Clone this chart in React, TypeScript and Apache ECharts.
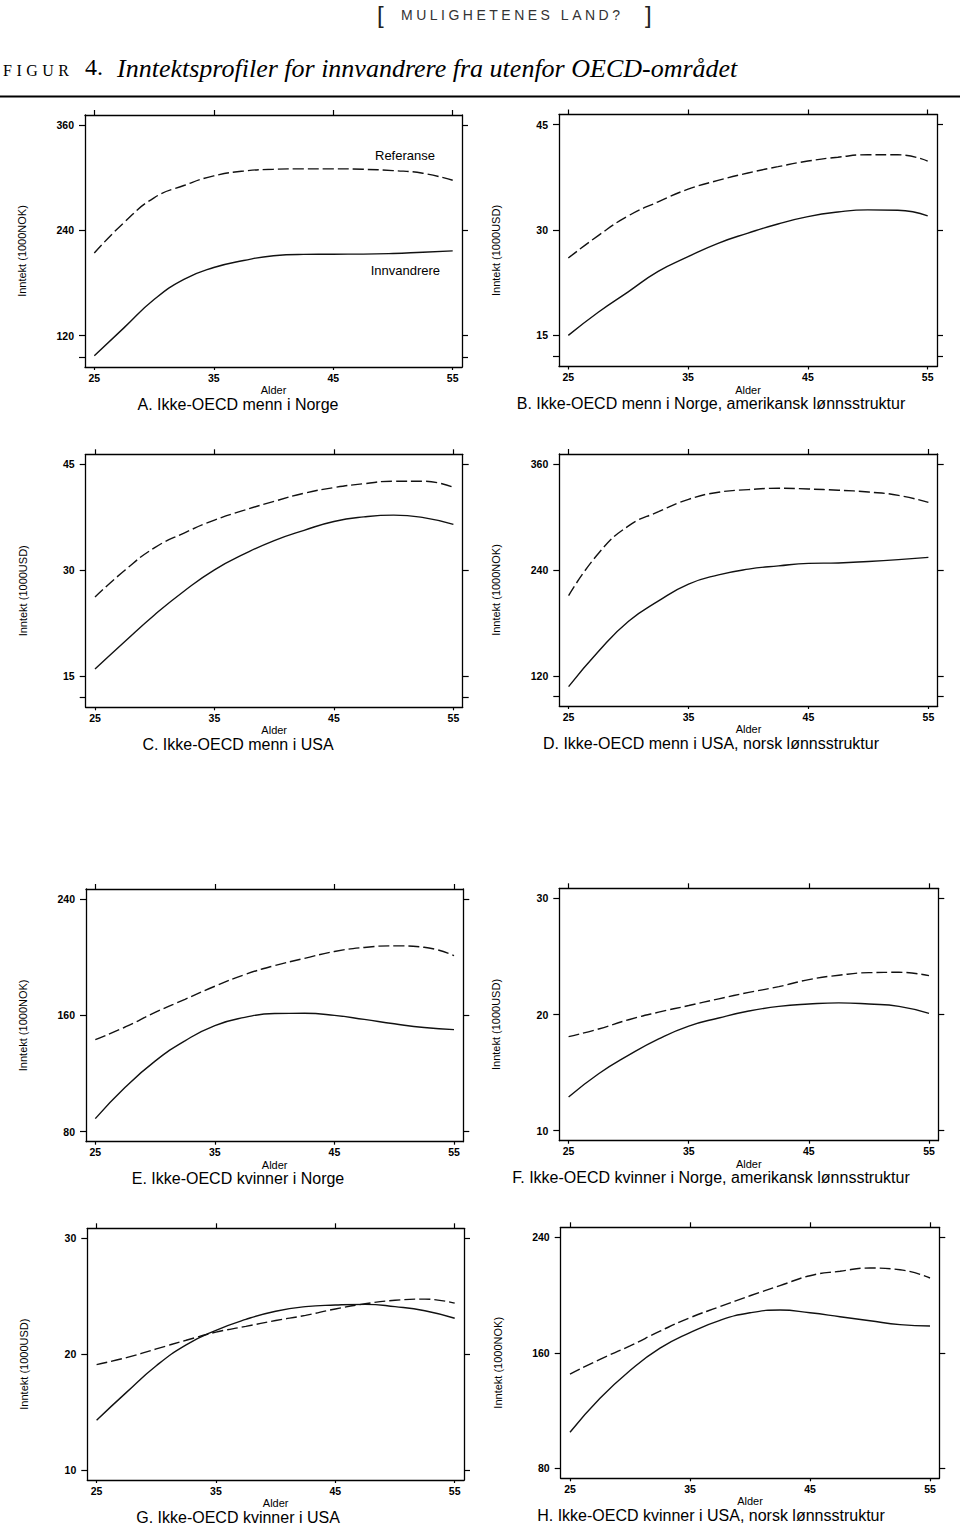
import React, { useEffect, useRef } from "react";
import * as echarts from "echarts";

// ---------- data ----------
const ages = [25, 27.5, 30, 32.5, 35, 37.5, 40, 42.5, 45, 47.5, 50, 52.5, 55];
const xTicks = [25, 35, 45, 55];

const refA = [214, 249, 277, 291, 302, 307.5, 309.5, 310, 310, 309.5, 308, 305, 297];
const innA = [97, 129, 161, 184, 197.5, 205.5, 211, 212.5, 212.7, 212.8, 213.5, 215, 216.5];
const refB = [26.0, 29.2, 32.0, 34.0, 35.8, 37.05, 38.1, 39.0, 39.8, 40.35, 40.7, 40.7, 39.8];
const innB = [15.0, 18.3, 21.2, 24.1, 26.2, 28.1, 29.55, 30.85, 31.9, 32.55, 32.85, 32.8, 32.0];
const refC = [26.2, 30.0, 33.2, 35.3, 37.1, 38.5, 39.75, 40.9, 41.7, 42.25, 42.6, 42.6, 41.75];
const innC = [16.0, 19.9, 23.7, 27.1, 30.05, 32.3, 34.2, 35.65, 36.9, 37.55, 37.8, 37.45, 36.5];
const refD = [211, 259, 290, 306, 320, 328, 331, 332.5, 331.7, 330.3, 328.3, 324.5, 316.6];
const innD = [108, 148, 182, 205, 224, 234.5, 241, 244.7, 247.5, 248, 249.7, 251.8, 254.3];
const refE = [143.3, 152, 162, 171, 180, 188, 194.2, 199.2, 203.9, 206.7, 207.8, 206.8, 201.1];
const innE = [89, 110.5, 128.5, 142.5, 153, 158.6, 161.3, 161.4, 160, 157.2, 154.2, 151.6, 150.2];
const refF = [18.1, 18.75, 19.55, 20.2, 20.77, 21.35, 21.9, 22.4, 23.0, 23.38, 23.6, 23.63, 23.34];
const innF = [12.9, 14.9, 16.5, 17.9, 19.0, 19.7, 20.3, 20.7, 20.9, 21.0, 20.9, 20.7, 20.1];
const refG = [19.1, 19.7, 20.45, 21.2, 21.9, 22.4, 22.9, 23.35, 23.9, 24.35, 24.65, 24.75, 24.4];
const innG = [14.3, 16.7, 19.0, 20.8, 22.06, 23.0, 23.7, 24.1, 24.24, 24.3, 24.1, 23.75, 23.1];
const refH = [145.3, 155.5, 164.8, 175, 184.3, 192, 199.5, 206.5, 213.4, 216.5, 218.7, 217.5, 211.8];
const innH = [105, 128.5, 147.7, 163.2, 174, 182.5, 187.7, 189.6, 187.7, 185, 182.2, 179.5, 178.6];

const yTicksNOK3 = [120, 240, 360];
const yTicksUSD3 = [15, 30, 45];
const yTicksNOK2 = [80, 160, 240];
const yTicksUSD2 = [10, 20, 30];
// lowest axis tick (unlabelled) when the axis runs below the first label
const yLowA = 95.5;
const yLowB = 12;
const yLowC = 12;
const yLowD = 97.4;

const titles = [
  "A. Ikke-OECD menn i Norge",
  "B. Ikke-OECD menn i Norge, amerikansk lønnsstruktur",
  "C. Ikke-OECD menn i USA",
  "D. Ikke-OECD menn i USA, norsk lønnsstruktur",
  "E. Ikke-OECD kvinner i Norge",
  "F. Ikke-OECD kvinner i Norge, amerikansk lønnsstruktur",
  "G. Ikke-OECD kvinner i USA",
  "H. Ikke-OECD kvinner i USA, norsk lønnsstruktur",
];
const yTitles = [
  "Inntekt (1000NOK)", "Inntekt (1000USD)", "Inntekt (1000USD)", "Inntekt (1000NOK)",
  "Inntekt (1000NOK)", "Inntekt (1000USD)", "Inntekt (1000USD)", "Inntekt (1000NOK)",
];
const xTitle = "Alder";
const legendRef = "Referanse";
const legendInn = "Innvandrere";

const panels = [
  { ref: refA, inn: innA, yTicks: yTicksNOK3, low: yLowA },
  { ref: refB, inn: innB, yTicks: yTicksUSD3, low: yLowB },
  { ref: refC, inn: innC, yTicks: yTicksUSD3, low: yLowC },
  { ref: refD, inn: innD, yTicks: yTicksNOK3, low: yLowD },
  { ref: refE, inn: innE, yTicks: yTicksNOK2, low: null },
  { ref: refF, inn: innF, yTicks: yTicksUSD2, low: null },
  { ref: refG, inn: innG, yTicks: yTicksUSD2, low: null },
  { ref: refH, inn: innH, yTicks: yTicksNOK2, low: null },
];

// ---------- layout ----------
const frames = [
  { left: 85, top: 115, width: 377, height: 252 },
  { left: 559, top: 114.5, width: 378, height: 252 },
  { left: 85.7, top: 454.3, width: 377, height: 253 },
  { left: 559.3, top: 454, width: 378.4, height: 252 },
  { left: 86, top: 889, width: 377.3, height: 252.7 },
  { left: 559.3, top: 888.3, width: 379, height: 252.4 },
  { left: 87.3, top: 1228.3, width: 376.7, height: 251.7 },
  { left: 560.7, top: 1227.3, width: 378.6, height: 251 },
];
const titleCenters = [238, 711];

const SANS = "'Liberation Sans', Arial, Helvetica, sans-serif";
const SERIF = "'Liberation Serif', 'Times New Roman', serif";
const INK = "#111";

function buildOption() {
  const grid: any[] = [];
  const xAxis: any[] = [];
  const yAxis: any[] = [];
  const series: any[] = [];
  const graphic: any[] = [];

  const axisLine = { show: true, onZero: false, lineStyle: { color: "#000", width: 1.3 } };
  const tickStyle = { color: "#000", width: 1.2 };
  const labelStyle = { color: "#000", fontSize: 10.5, fontWeight: "bold", fontFamily: SANS };

  panels.forEach((p, i) => {
    const f = frames[i];
    grid.push({ left: f.left, top: f.top, width: f.width, height: f.height, containLabel: false });
    const xPadPx = 9.3;
    const xPad = (30 * xPadPx) / (f.width - 2 * xPadPx);
    const lo = p.low != null ? p.low : p.yTicks[0];
    const hi = p.yTicks[p.yTicks.length - 1];
    const yPad = ((hi - lo) * 10) / (f.height - 20);
    const yTickVals = p.low != null ? [p.low, ...p.yTicks] : p.yTicks;
    const xMin = 25 - xPad, xMax = 55 + xPad, yMin = lo - yPad, yMax = hi + yPad;

    xAxis.push({
      type: "value", gridIndex: i, position: "bottom", min: xMin, max: xMax,
      axisLine, splitLine: { show: false },
      axisTick: { show: true, length: 3, customValues: xTicks, lineStyle: tickStyle },
      axisLabel: { show: true, customValues: xTicks, margin: 5, ...labelStyle },
    });
    xAxis.push({
      type: "value", gridIndex: i, position: "top", min: xMin, max: xMax,
      axisLine, splitLine: { show: false },
      axisTick: { show: true, length: 5, customValues: xTicks, lineStyle: tickStyle },
      axisLabel: { show: false },
    });
    yAxis.push({
      type: "value", gridIndex: i, position: "left", min: yMin, max: yMax,
      axisLine, splitLine: { show: false },
      axisTick: { show: true, length: 6, customValues: yTickVals, lineStyle: tickStyle },
      axisLabel: { show: true, customValues: p.yTicks, margin: 11, ...labelStyle },
    });
    yAxis.push({
      type: "value", gridIndex: i, position: "right", min: yMin, max: yMax,
      axisLine, splitLine: { show: false },
      axisTick: { show: true, length: 6, customValues: yTickVals, lineStyle: tickStyle },
      axisLabel: { show: false },
    });

    series.push({
      type: "line", name: legendRef, xAxisIndex: 2 * i, yAxisIndex: 2 * i,
      data: ages.map((a, k) => [a, p.ref[k]]),
      smooth: 0.5, symbol: "none", silent: true,
      lineStyle: { color: INK, width: 1.4, type: [11, 4] },
    });
    series.push({
      type: "line", name: legendInn, xAxisIndex: 2 * i, yAxisIndex: 2 * i,
      data: ages.map((a, k) => [a, p.inn[k]]),
      smooth: 0.5, symbol: "none", silent: true,
      lineStyle: { color: INK, width: 1.4, type: "solid" },
    });

    const bottom = f.top + f.height;
    graphic.push({
      type: "text", x: f.left + f.width / 2, y: bottom + 23,
      style: { text: xTitle, fontSize: 11, fontFamily: SANS, fill: "#000", align: "center", verticalAlign: "middle" },
    });
    graphic.push({
      type: "text", x: titleCenters[i % 2], y: bottom + 37,
      style: { text: titles[i], fontSize: 16, fontFamily: SANS, fill: "#000", align: "center", verticalAlign: "middle" },
    });
    graphic.push({
      type: "text", x: f.left - 63, y: f.top + f.height / 2 + 10, rotation: Math.PI / 2,
      style: { text: yTitles[i], fontSize: 11, fontFamily: SANS, fill: "#000", align: "center", verticalAlign: "middle" },
    });
  });

  // in-plot labels of panel A
  graphic.push({
    type: "text", x: 375, y: 155,
    style: { text: legendRef, fontSize: 13, fontFamily: SANS, fill: "#000", align: "left", verticalAlign: "middle" },
  });
  graphic.push({
    type: "text", x: 370.7, y: 270,
    style: { text: legendInn, fontSize: 13, fontFamily: SANS, fill: "#000", align: "left", verticalAlign: "middle" },
  });

  // page header
  graphic.push({
    type: "text", x: 377, y: 14,
    style: { text: "[", fontSize: 24, fontFamily: SANS, fill: "#222", align: "left", verticalAlign: "middle" },
  });
  graphic.push({
    type: "text", x: 401, y: 15,
    style: { text: "MULIGHETENES LAND?", fontSize: 14, fontFamily: SANS, fill: "#333", align: "left", verticalAlign: "middle" },
  });
  graphic.push({
    type: "text", x: 645, y: 14,
    style: { text: "]", fontSize: 24, fontFamily: SANS, fill: "#222", align: "left", verticalAlign: "middle" },
  });
  graphic.push({
    type: "text", x: 3, y: 70,
    style: { text: "FIGUR", fontSize: 16, fontFamily: SERIF, fill: "#000", align: "left", verticalAlign: "middle" },
  });
  graphic.push({
    type: "text", x: 85, y: 67,
    style: { text: "4.", fontSize: 24, fontFamily: SERIF, fill: "#000", align: "left", verticalAlign: "middle" },
  });
  graphic.push({
    type: "text", x: 117, y: 68,
    style: {
      text: "Inntektsprofiler for innvandrere fra utenfor OECD-området",
      fontSize: 26, fontStyle: "italic", fontFamily: SERIF, fill: "#000", align: "left", verticalAlign: "middle",
    },
  });
  graphic.push({
    type: "line", shape: { x1: 0, y1: 96.5, x2: 960, y2: 96.5 },
    style: { stroke: "#000", lineWidth: 2 },
  });

  return {
    animation: false,
    backgroundColor: "#fff",
    grid, xAxis, yAxis, series, graphic,
  };
}

export default function App() {
  const ref = useRef<HTMLDivElement>(null);
  useEffect(() => {
    const el = ref.current;
    if (!el) return;
    const chart = echarts.init(el, null, { renderer: "svg", width: 960, height: 1525 });
    chart.setOption(buildOption() as any);
    const applySpacing = () => {
      el.querySelectorAll("text").forEach((t) => {
        const s = t.textContent;
        if (s === "MULIGHETENES LAND?") t.setAttribute("letter-spacing", "3.5");
        else if (s === "FIGUR") t.setAttribute("letter-spacing", "4.5");
      });
    };
    chart.on("finished", applySpacing);
    applySpacing();
    return () => {
      chart.dispose();
    };
  }, []);
  return (
    <div
      ref={ref}
      style={{ position: "absolute", left: 0, top: 0, width: 960, height: 1525, background: "#fff" }}
    />
  );
}
